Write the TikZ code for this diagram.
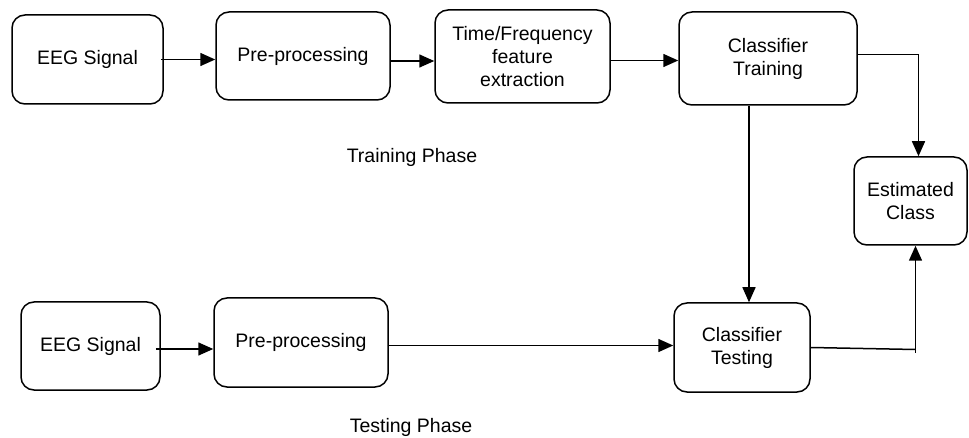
\documentclass[tikz,border=0pt]{standalone}
\usepackage{fontspec}
\setmainfont{Liberation Sans}
\usetikzlibrary{arrows.meta}
\begin{document}
\begin{tikzpicture}[x=1pt,y=-1pt,
  box/.style={draw, line width=1.5pt, rounded corners=13pt, align=center,
    inner sep=0pt, font=\fontsize{19.5}{23}\selectfont},
  arr/.style={line width=1.5pt, -{Triangle[length=15pt,width=13pt]}},
  lnk/.style={line width=1.5pt},
  caption/.style={font=\fontsize{19.5}{23}\selectfont}]
\useasboundingbox (0,0) rectangle (969,438);

% training chain
\node[box, minimum width=151pt, minimum height=89pt] (sig1) at (87.5,59.5) {EEG Signal};
\node[box, minimum width=174pt, minimum height=88pt] (pre1) at (303,56) {Pre-processing};
\node[box, minimum width=175pt, minimum height=93pt] (feat) at (522.5,56.5) {Time/Frequency\\feature\\extraction};
\node[box, minimum width=178pt, minimum height=93pt] (train) at (768,58.5) {Classifier\\Training};
\node[box, minimum width=113pt, minimum height=88pt] (est) at (910.5,201) {Estimated\\Class};

% testing chain
\node[box, minimum width=139pt, minimum height=88pt] (sig2) at (90.5,346) {EEG Signal};
\node[box, minimum width=174pt, minimum height=89pt] (pre2) at (301,342.5) {Pre-processing};
\node[box, minimum width=136pt, minimum height=89pt] (test) at (742,347.5) {Classifier\\Testing};

\node[caption] (trcap) at (412,157) {Training Phase};
\node[caption] (tecap) at (411,427) {Testing Phase};

% connectors
\draw[arr] ([xshift=-3pt]sig1.east) -- (sig1.east -| pre1.west);
\draw[arr] ([yshift=-5pt]pre1.east) -- ([yshift=-5pt]pre1.east -| feat.west);
\draw[arr] ([yshift=-4pt]feat.east) -- ([yshift=-4pt]feat.east -| train.west);
\draw[arr] ([yshift=4pt]train.east) -| ([xshift=8pt]est.north);
\draw[arr] ([xshift=-19pt]train.south) -- ([xshift=-19pt]train.south |- test.north);

\draw[arr] ([xshift=-5pt,yshift=-3pt]sig2.east) -- ([yshift=-3pt]sig2.east -| pre2.west);
\draw[arr] ([yshift=-3pt]pre2.east) -- ([yshift=-3pt]pre2.east -| test.west);

\coordinate (turn) at ([xshift=5pt]est.south |- test.east);
\draw[lnk] (test.east) -- ([yshift=-2pt]turn);
\draw[arr] ([yshift=-5pt]turn) -- ([xshift=5pt]est.south);
\end{tikzpicture}
\end{document}
